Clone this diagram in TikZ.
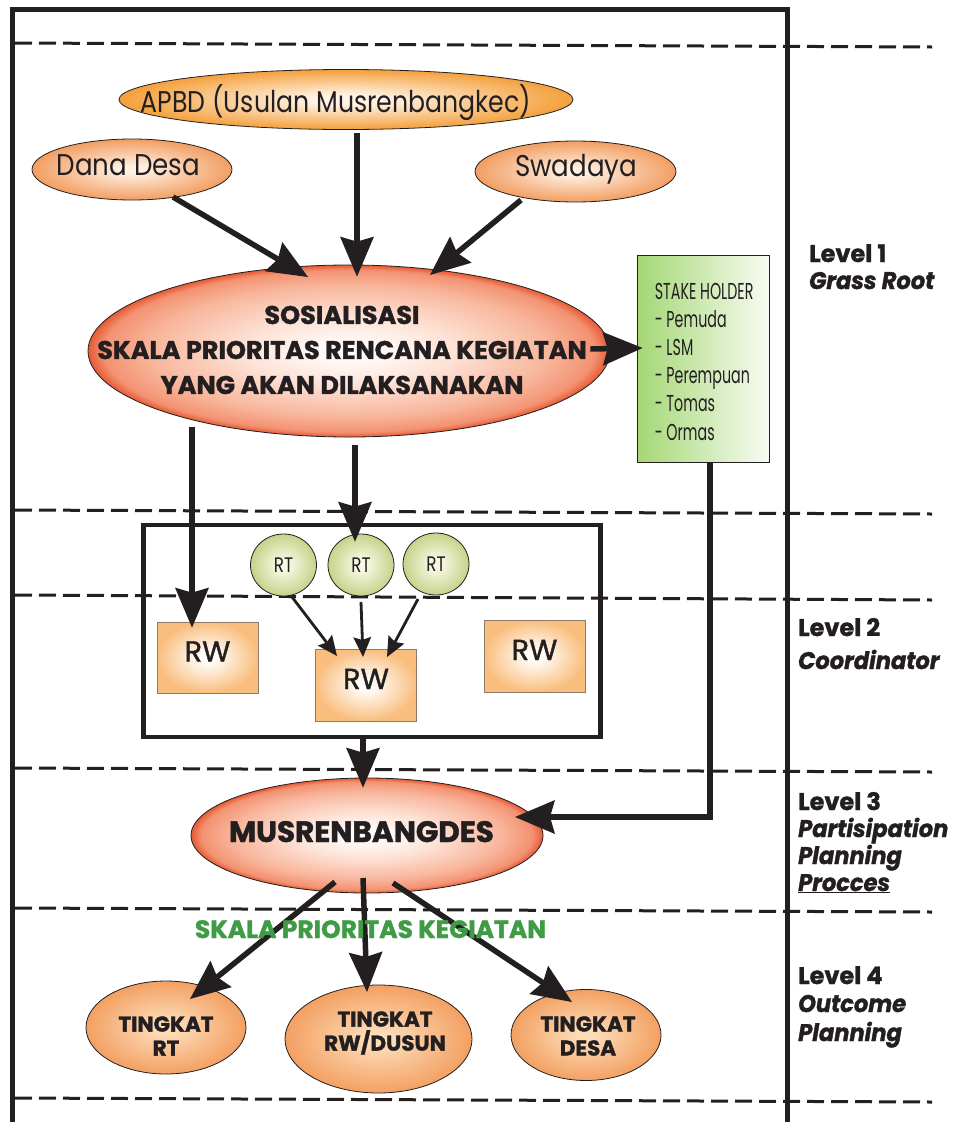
\documentclass[tikz,border=0pt]{standalone}
\usepackage{fontspec}
\setmainfont{Poppins}[BoldFeatures={FakeBold=1.4}, BoldItalicFeatures={FakeBold=1.4}]
\newfontfamily\apbdfont{Poppins}[FakeStretch=0.84]
\newfontfamily\condfont{Poppins}[FakeStretch=0.87]
\newfontfamily\shfont{Poppins}[FakeStretch=0.62]
\newfontfamily\rtfont{Poppins}[FakeStretch=0.8]
\newfontfamily\rwfont{Poppins}[FakeBold=1.2]
\newfontfamily\lvlitfont{Poppins}[FakeStretch=0.94, BoldFeatures={FakeBold=1.4}, BoldItalicFeatures={FakeBold=1.4}]
\usetikzlibrary{shapes.geometric,arrows.meta}

\definecolor{dark}{HTML}{231F20}
\definecolor{apbdE}{HTML}{F4A03C}
\definecolor{apbdC}{HTML}{FFF3E4}
\definecolor{danaE}{HTML}{F29E62}
\definecolor{danaC}{HTML}{FFF0E2}
\definecolor{sosE}{HTML}{E65A34}
\definecolor{sosD}{HTML}{F39272}
\definecolor{sosM}{HTML}{F8B69C}
\definecolor{sosL}{HTML}{FDE2D6}
\definecolor{sosC}{HTML}{FFF9F6}
\definecolor{tkE}{HTML}{F3A062}
\definecolor{tkC}{HTML}{FDDCB8}
\definecolor{rtE}{HTML}{C6D28A}
\definecolor{rtC}{HTML}{F7F9E4}
\definecolor{rwE}{HTML}{F9BE7E}
\definecolor{rwC}{HTML}{FFFCF7}
\definecolor{shL}{HTML}{A4D774}
\definecolor{shR}{HTML}{F9FCF3}
\definecolor{skala}{HTML}{3F9B45}
\definecolor{rwborder}{HTML}{8C7B6B}

\pgfdeclareradialshading{shApbd}{\pgfpointorigin}{color(0bp)=(apbdC); color(4bp)=(apbdC); color(25bp)=(apbdE); color(50bp)=(apbdE)}
\pgfdeclareradialshading{shDana}{\pgfpointorigin}{color(0bp)=(danaC); color(3bp)=(danaC); color(25bp)=(danaE); color(50bp)=(danaE)}
\pgfdeclareradialshading{shSos}{\pgfpointorigin}{color(0bp)=(sosC); color(3bp)=(sosC); color(10bp)=(sosL); color(19bp)=(sosM); color(23.5bp)=(sosD); color(25bp)=(sosE); color(50bp)=(sosE)}
\pgfdeclareradialshading{shTk}{\pgfpointorigin}{color(0bp)=(tkC); color(3bp)=(tkC); color(25bp)=(tkE); color(50bp)=(tkE)}
\pgfdeclareradialshading{shRt}{\pgfpointorigin}{color(0bp)=(rtC); color(4bp)=(rtC); color(25bp)=(rtE); color(50bp)=(rtE)}
\pgfdeclareradialshading{shRw}{\pgfpointorigin}{color(0bp)=(rwC); color(4bp)=(rwC); color(25bp)=(rwE); color(50bp)=(rwE)}

\tikzset{
  ell/.style={ellipse, draw=dark, line width=0.8pt, inner sep=0pt, shade},
  bigarrow/.style={draw=dark, line width=5.5pt, -{Stealth[length=40pt,width=34pt,inset=5pt,line width=0pt]}},
  thinarrow/.style={draw=dark, line width=2.8pt, -{Stealth[length=20pt,width=18pt,inset=3pt,line width=0pt]}},
  lvl/.style={anchor=base west, inner sep=0pt, text=dark, font=\bfseries\fontsize{24}{28}\selectfont},
  lvlsub/.style={anchor=base west, inner sep=0pt, text=dark, font=\lvlitfont\bfseries\itshape\fontsize{24}{28}\selectfont},
  sepline/.style={draw=dark, line width=3pt, dash pattern=on 17pt off 7pt},
  rwbox/.style={rectangle, draw=rwborder, line width=0.8pt, shade, shading=shRw, minimum width=101pt, minimum height=71pt, inner sep=0pt, font=\rwfont\fontsize{29}{30}\selectfont, text=dark, text height=22pt, text depth=14pt},
  rtnode/.style={ellipse, draw=dark, line width=0.8pt, shade, shading=shRt, minimum width=66pt, minimum height=62pt, inner sep=0pt, font=\rtfont\fontsize{21}{22}\selectfont, text=dark},
  cond/.style={inner sep=0pt, anchor=base, text=dark, font=\condfont\fontsize{30}{32}\selectfont},
  tktext/.style={inner sep=0pt, align=center, text=dark, font=\bfseries\fontsize{21.5}{24}\selectfont},
}

\begin{document}
\begin{tikzpicture}[x=1pt,y=-1pt]
\useasboundingbox (0,0) rectangle (959,1122);
\fill[white] (0,0) rectangle (959,1122);

% separator lines
\draw[sepline] (15,43) -- (932,47);
\draw[sepline] (15,510) -- (932,514);
\draw[sepline] (15,595) -- (932,600);
\draw[sepline] (15,768) -- (932,772);
\draw[sepline] (15,908) -- (932,912);
\draw[sepline] (15,1098) -- (932,1102);

% outer frame
\draw[draw=dark, line width=5pt] (12.5,1140) |- (787.5,9) -- (787.5,1140);

% inner frame
\node[rectangle, draw=dark, line width=4.5pt, minimum width=457pt, minimum height=212pt, inner sep=0pt] (box) at (372,631) {};

% top sources
\node[ell, shading=shApbd, minimum width=454pt, minimum height=60pt] (apbd) at (346,99.5) {};
\node[ell, shading=shDana, minimum width=200pt, minimum height=61pt] (dana) at (132,169.5) {};
\node[ell, shading=shDana, minimum width=201pt, minimum height=61pt] (swa) at (575.5,171.5) {};
\node[cond, font=\apbdfont\fontsize{30}{32}\selectfont] (apbdT) at (336,112) {APBD (Usulan Musrenbangkec)};
\node[cond] (danaT) at (128.5,175) {Dana Desa};
\node[cond] (swaT) at (576,176) {Swadaya};

% sosialisasi
\node[ell, shading=shSos, minimum width=522pt, minimum height=172pt] (sos) at (349,351) {};
\node[inner sep=0pt, align=center, text=dark, font=\bfseries\fontsize{25.5}{35}\selectfont] (sosT) at (342,350)
  {SOSIALISASI\\SKALA PRIORITAS RENCANA KEGIATAN\\YANG AKAN DILAKSANAKAN};

% stakeholder
\node[rectangle, draw=dark, line width=0.8pt, left color=shL, right color=shR, minimum width=132pt, minimum height=207pt, inner sep=0pt] (sh) at (703,358.5) {};
\node[anchor=north west, inner sep=0pt, align=left, text=dark, font=\shfont\fontsize{23}{28.2}\selectfont] (shT) at ([shift={(18,28)}]sh.north west)
  {STAKE HOLDER\\- Pemuda\\- LSM\\- Perempuan\\- Tomas\\- Ormas};

% RT and RW
\node[rtnode] (rt1) at (283.5,565) {RT};
\node[rtnode] (rt2) at (361,565) {RT};
\node[rtnode] (rt3) at (436,564) {RT};
\node[rwbox] (rw1) at (207.5,657.5) {RW};
\node[rwbox, minimum height=72pt] (rw2) at (366,685) {RW};
\node[rwbox, minimum height=72pt] (rw3) at (534.5,656) {RW};

% musrenbangdes
\node[ell, shading=shSos, minimum width=352pt, minimum height=115pt] (mus) at (367,835.5) {};
\node[inner sep=0pt, anchor=base, text=dark, font=\bfseries\fontsize{29.5}{30}\selectfont] (musT) at (361.5,842) {MUSRENBANGDES};

% outcome
\node[ell, shading=shTk, minimum width=160pt, minimum height=93pt] (trt) at (166,1027.5) {};
\node[ell, shading=shTk, minimum width=187pt, minimum height=108pt] (trw) at (378.5,1039) {};
\node[ell, shading=shTk, minimum width=150pt, minimum height=91pt] (tds) at (586,1035) {};
\node[tktext] (trtT) at (166,1036) {TINGKAT\\RT};
\node[tktext] (trwT) at (385,1033) {TINGKAT\\RW/DUSUN};
\node[tktext] (tdsT) at (588,1036) {TINGKAT\\DESA};

% arrows
\draw[bigarrow] ([shift={(41,27.5)}]dana.center) -- ([shift={(-41,-74)}]sos.center);
\draw[bigarrow] ([shift={(11,3.5)}]apbd.south) -- ([shift={(8,12)}]sos.north);
\draw[bigarrow] ([shift={(-54.5,28.5)}]swa.center) -- ([shift={(81,-76)}]sos.center);
\draw[bigarrow] ([shift={(-20,-2)}]sos.east) -- ([shift={(6,-10.5)}]sh.west);
\draw[bigarrow] ([shift={(-157,76)}]sos.center) -- ([shift={(-15.5,6)}]rw1.north);
\draw[bigarrow] ([shift={(6,8)}]sos.south) -- ([shift={(-6,8)}]rt2.north);
\draw[thinarrow] ([shift={(8.5,32)}]rt1.center) -- ([shift={(-29,-29)}]rw2.center);
\draw[thinarrow] ([shift={(0,37)}]rt2.center) -- ([shift={(-3,-28)}]rw2.center);
\draw[thinarrow] ([shift={(-18,35)}]rt3.center) -- ([shift={(21,-28)}]rw2.center);
\draw[bigarrow] ([shift={(-9,0)}]box.south) -- ([shift={(-4,10)}]mus.north);
\draw[bigarrow] ([xshift=7pt]sh.south) |- ([shift={(148,-18.5)}]mus.center);
\draw[bigarrow] ([shift={(-32,46.5)}]mus.center) -- ([shift={(24,-28.5)}]trt.center);
\draw[bigarrow] ([shift={(-4,42.5)}]mus.center) -- ([shift={(-11.5,-47)}]trw.center);
\draw[bigarrow] ([shift={(26,47.5)}]mus.center) -- ([shift={(-14,-33)}]tds.center);

% green label
\node[inner sep=0pt, anchor=base, text=skala, font=\bfseries\fontsize{25}{28}\selectfont] (skalaT) at (370.5,938) {SKALA PRIORITAS KEGIATAN};

% level labels
\node[lvl] (l1) at (809,262) {Level 1};
\node[lvlsub] (l1s) at (809,289) {Grass Root};
\node[lvl] (l2) at (798,636) {Level 2};
\node[lvlsub] (l2s) at (798,669) {Coordinator};
\node[lvl] (l3) at (798,810) {Level 3};
\node[lvlsub] (l3a) at (798,837) {Partisipation};
\node[lvlsub] (l3b) at (798,864) {Planning};
\node[lvlsub] (l3c) at (798,891) {\underline{Procces}};
\node[lvl] (l4) at (798,984) {Level 4};
\node[lvlsub] (l4a) at (798,1012) {Outcome};
\node[lvlsub] (l4b) at (798,1041) {Planning};
\end{tikzpicture}
\end{document}
